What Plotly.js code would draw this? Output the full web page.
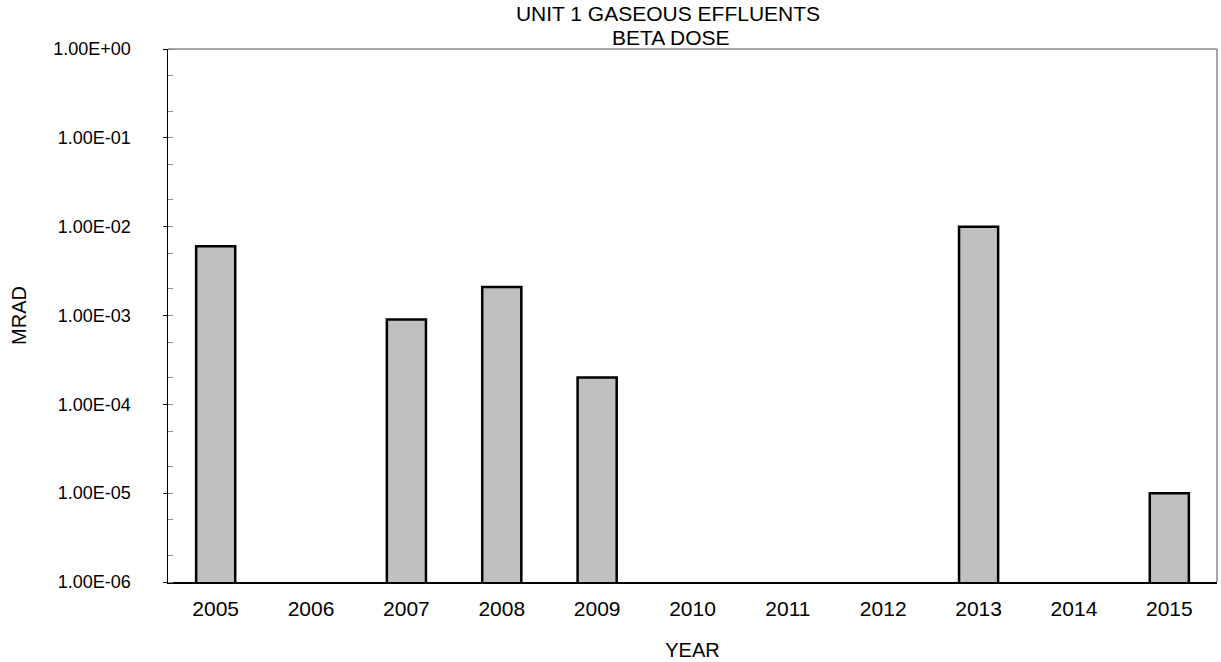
<!DOCTYPE html>
<html>
<head>
<meta charset="utf-8">
<script src="https://cdn.plot.ly/plotly-3.0.1.min.js"></script>
<style>html,body{margin:0;padding:0;background:#fff;}#chart{width:1221px;height:662px;}</style>
</head>
<body>
<div id="chart"></div>
<script>
const years = ['2005','2006','2007','2008','2009','2010','2011','2012','2013','2014','2015'];
const betaDose = [6.0e-3, null, 9.0e-4, 2.1e-3, 2.0e-4, null, null, null, 1.0e-2, null, 1.0e-5];
const yTickVals = [1e-6, 1e-5, 1e-4, 1e-3, 1e-2, 1e-1, 1e0];
const yTickText = ['1.00E-06','1.00E-05','1.00E-04','1.00E-03','1.00E-02','1.00E-01','1.00E+00'];
const titleLine1 = 'UNIT 1 GASEOUS EFFLUENTS';
const titleLine2 = 'BETA DOSE';

const W = 1221, H = 662;
const L = 168, R = 1217, T = 49, B = 582;
const font = 'Liberation Sans, Arial, sans-serif';

const trace = {
  type: 'bar',
  x: years,
  y: betaDose,
  marker: {color: '#C0C0C0', line: {color: '#000000', width: 2.5}},
  hoverinfo: 'x+y'
};

const layout = {
  width: W, height: H,
  margin: {l: L, r: W - R, t: T, b: H - B, pad: 0},
  paper_bgcolor: '#ffffff',
  plot_bgcolor: '#ffffff',
  showlegend: false,
  bargap: 0.59,
  font: {family: font, color: '#000000', size: 18},
  title: {
    text: titleLine1,
    font: {family: font, size: 21, color: '#000000'},
    x: 668 / W, xanchor: 'center', xref: 'container',
    y: 1 - 14 / H, yanchor: 'middle', yref: 'container'
  },
  annotations: [{
    text: titleLine2, showarrow: false,
    xref: 'paper', yref: 'paper',
    x: (670 - L) / (R - L), xanchor: 'center',
    y: (B - 37) / (B - T), yanchor: 'middle',
    font: {family: font, size: 21, color: '#000000'}
  }],
  xaxis: {
    type: 'category',
    showline: true, linecolor: '#000000', linewidth: 1.5,
    ticks: '', showgrid: false, zeroline: false,
    tickfont: {family: font, size: 21, color: '#000000'},
    ticklabelstandoff: 7,
    title: {text: 'YEAR', font: {family: font, size: 20, color: '#000000'}, standoff: 24}
  },
  yaxis: {
    type: 'log', range: [-6, 0],
    showline: true, linecolor: '#000000', linewidth: 1.5,
    showgrid: false, zeroline: false,
    tickvals: yTickVals, ticktext: yTickText,
    ticks: 'outside', ticklen: 4, tickcolor: '#000000', tickwidth: 1,
    tickfont: {family: font, size: 18, color: '#000000'},
    ticklabelstandoff: 28,
    minor: {ticks: 'inside', ticklen: 5, tickcolor: '#8a8a8a', tickwidth: 1, showgrid: false},
    title: {text: 'MRAD', font: {family: font, size: 20, color: '#000000'}, standoff: 21}
  },
  shapes: [
    {type: 'line', xref: 'paper', yref: 'paper', x0: 0, x1: 1, y0: 1, y1: 1, line: {color: '#8a8a8a', width: 1.5}, layer: 'below'},
    {type: 'line', xref: 'paper', yref: 'paper', x0: 1, x1: 1, y0: 0, y1: 1, line: {color: '#8a8a8a', width: 1.5}, layer: 'below'}
  ]
};

Plotly.newPlot('chart', [trace], layout, {displayModeBar: false, staticPlot: true});
</script>
</body>
</html>
